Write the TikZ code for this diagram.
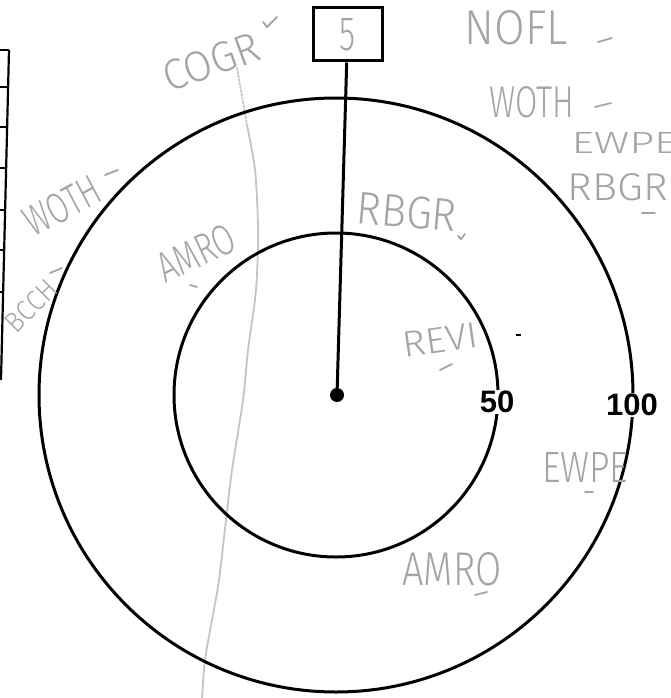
\documentclass[tikz,border=0pt]{standalone}
\usepackage{fontspec}
\setmainfont{Liberation Sans}
\newfontfamily\handfont{Fira Sans Light}
\usetikzlibrary{positioning}
\definecolor{pencil}{HTML}{A4A4A4}
\definecolor{faint}{HTML}{C4C4C4}
\newcommand{\hw}[3]{\resizebox{#1pt}{#2pt}{#3}}

\begin{document}
\begin{tikzpicture}[
                x=1pt, y=-1pt,
                ring/.style={draw, line width=3pt},
                stake/.style={rectangle, draw, line width=3pt, minimum width=69pt, minimum height=53pt, inner sep=0pt, text=pencil, font=\handfont},
                stem/.style={draw, line width=3pt},
                dist/.style={font=\fontsize{31}{31}\selectfont\bfseries, fill=white, inner sep=1pt},
                hand/.style={text=pencil, font=\handfont, inner sep=0pt},
                tick/.style={draw=pencil, line width=1.8pt, line cap=round},
                pencil line/.style={draw=faint, line width=1.8pt, line cap=round}
            ]
            \useasboundingbox (0,0) rectangle (670,698);

            % Table edge on the left
            \draw[line width=2.2pt] (9,50) -- (1,380);
            \foreach \y in {50,87,127,168,210,250,292}
                \draw[line width=1.8pt] (0,\y) -- ({9-(\y-50)*0.024},\y);

            % Pencil line
            \draw[pencil line, dotted] (237,68) -- (247,125);
            \draw[pencil line] plot[smooth] coordinates {(247,125) (255,170) (258,230) (256,290) (248,350) (243,400) (232,470) (226,520) (219,580) (212,620) (205,660) (202,698)};

            % Rings
            \coordinate (ctr) at (336,395);
            \draw[ring] (ctr) circle[radius=162];
            \draw[ring] (ctr) circle[radius=297];

            % Nodes
            \node (pin) at (337,395) [circle, fill, inner sep=0pt, minimum size=14pt] {};
            \node (stake) at (347.5,34.5) [stake] {\hw{16}{32}{5}};
            \node (d50) at (497,402) [dist] {50};
            \node (d100) at (632,405) [dist] {100};

            \node (nofl) at (516,28) [hand] {\hw{103}{34}{NOFL}};
            \node (wothR) at (532,102) [hand] {\hw{85}{31}{WOTH}};
            \node (ewpeR) at (624,143) [hand] {\hw{105}{21}{EWPE}};
            \node (rbgrR) at (618,187) [hand] {\hw{100}{27}{RBGR}};
            \node (rbgrIn) at (407,212) [hand, rotate=-5] {\hw{100}{32}{RBGR}};
            \node (revi) at (440,340) [hand, rotate=8] {\hw{76}{25}{REVI}};
            \node (ewpeL) at (585,467) [hand] {\hw{86}{30}{EWPE}};
            \node (amroL) at (452,569) [hand] {\hw{99}{33}{AMRO}};
            \node (amroU) at (196,253) [hand, rotate=25] {\hw{82}{30}{AMRO}};
            \node (wothL) at (62,206) [hand, rotate=28] {\hw{80}{30}{WOTH}};
            \node (bcch) at (31,306) [hand, rotate=45] {\hw{60}{20}{BCCH}};
            \node (cogr) at (211,62) [hand, rotate=20] {\hw{100}{30}{COGR}};

            % Ticks
            \draw[tick] (598,42) -- (612,38);
            \draw[tick] (595,107) -- (611,103);
            \draw[tick] (642,213) -- (655,213);
            \draw[tick] (458,236) -- (461,239) -- (465,234);
            \draw[tick] (440,370) -- (452,364);
            \draw[tick] (585,492) -- (593,492);
            \draw[tick] (475,595) -- (487,592);
            \draw[tick] (190,285) -- (197,287);
            \draw[tick] (105,175) -- (118,170);
            \draw[tick] (50,273) -- (62,268);
            \draw[tick] (263,22) -- (267,27) -- (277,17);
            \draw[line width=2pt] (516,335) -- (521,335);

            % Stem
            \draw[stem] (pin) -- (stake);

            \end{tikzpicture}
\end{document}
